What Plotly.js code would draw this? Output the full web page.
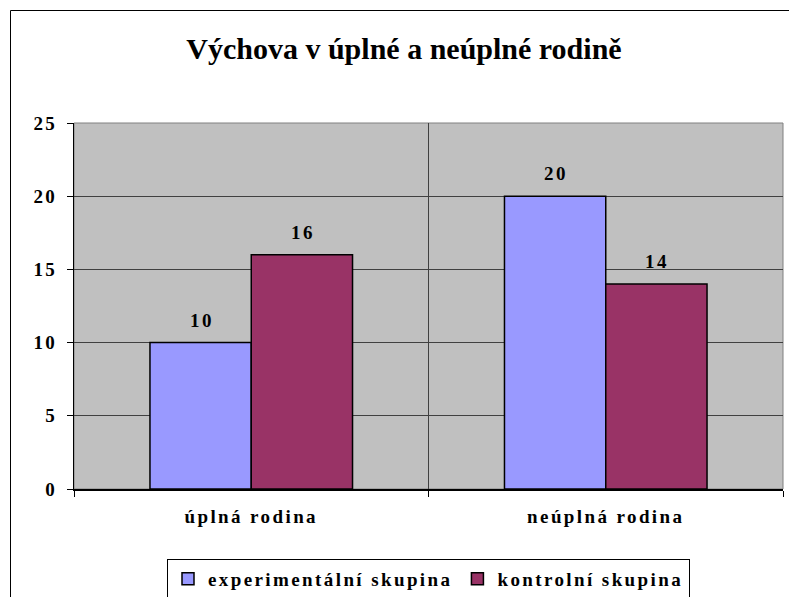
<!DOCTYPE html>
<html>
<head>
<meta charset="utf-8">
<script src="https://cdn.plot.ly/plotly-3.0.1.min.js"></script>
<style>
  html, body { margin: 0; padding: 0; background: #fff; overflow: hidden; }
  #chart { width: 789px; height: 597px; }
  .xtick text, .ytick text, text.legendtext, .annotation-text {
    letter-spacing: 2.4px; font-weight: bold !important;
    font-family: 'Liberation Serif', 'Times New Roman', serif !important;
  }
</style>
</head>
<body>
<div id="chart"></div>
<script>
const categories = ['úplná rodina', 'neúplná rodina'];
const seriesNames = ['experimentální skupina', 'kontrolní skupina'];
const experimental = [10, 20];
const control = [16, 14];
const yTicks = [0, 5, 10, 15, 20, 25];
const chartTitle = 'Výchova v úplné a neúplné rodině';

const serif = 'Liberation Serif, Times New Roman, serif';
const labelFont = { family: serif, size: 19, color: '#000', weight: 700 };

function barTrace(name, values, color) {
  return {
    type: 'bar',
    name: name,
    x: categories,
    y: values,
    marker: { color: color, line: { color: '#000', width: 1.5 } },
    hoverinfo: 'skip'
  };
}

const data = [
  barTrace(seriesNames[0], experimental, '#9999FF'),
  barTrace(seriesNames[1], control, '#993366')
];

// value labels, placed through the axis scales above each bar
const seriesValues = [experimental, control];
const halfBarPx = 50.5;
const annotations = [];
seriesValues.forEach(function (vals, s) {
  vals.forEach(function (v, i) {
    annotations.push({
      xref: 'x', yref: 'y',
      x: categories[i], y: v,
      text: String(v),
      showarrow: false,
      xanchor: 'center', yanchor: 'bottom',
      xshift: (s === 0 ? -1 : 1) * halfBarPx + 1,
      yshift: 10,
      font: labelFont
    });
  });
});

const plotL = 74, plotR = 6, plotT = 123, plotB = 108;
const plotW = 789 - plotL - plotR, plotH = 597 - plotT - plotB;

const layout = {
  width: 789,
  height: 597,
  margin: { l: plotL, r: plotR, t: plotT, b: plotB, pad: 0, autoexpand: false },
  paper_bgcolor: '#ffffff',
  plot_bgcolor: '#C0C0C0',
  title: {
    text: '<b>' + chartTitle + '</b>',
    font: { family: serif, size: 30, color: '#000' },
    x: 0.512, xanchor: 'center', xref: 'container',
    y: 1 - 48 / 597, yanchor: 'middle', yref: 'container'
  },
  barmode: 'group',
  bargap: 0.4286,
  bargroupgap: 0,
  showlegend: true,
  legend: {
    orientation: 'h',
    x: 0.5, xanchor: 'center',
    y: -(559 - 489) / plotH, yanchor: 'top',
    bgcolor: '#ffffff',
    bordercolor: '#000',
    borderwidth: 1,
    font: labelFont,
    itemwidth: 30,
    traceorder: 'normal'
  },
  annotations: annotations,
  xaxis: {
    type: 'category',
    tickson: 'boundaries',
    ticks: 'outside',
    ticklen: 6,
    tickcolor: '#000',
    tickwidth: 1,
    showgrid: true,
    gridcolor: '#404040',
    gridwidth: 1,
    showline: true,
    linecolor: '#000',
    linewidth: 1.5,
    tickfont: labelFont,
    ticklabelstandoff: 10,
    fixedrange: true
  },
  yaxis: {
    range: [0, 25],
    tickvals: yTicks,
    ticktext: yTicks.map(String),
    ticks: 'outside',
    ticklen: 6,
    tickcolor: '#000',
    tickwidth: 1,
    showgrid: true,
    gridcolor: '#404040',
    gridwidth: 1,
    zeroline: false,
    showline: true,
    linecolor: '#000',
    linewidth: 1,
    tickfont: labelFont,
    ticklabelstandoff: 6,
    fixedrange: true
  },
  shapes: [
    {
      type: 'rect', xref: 'paper', yref: 'paper',
      x0: 0, x1: 1, y0: 0, y1: 1,
      line: { color: '#808080', width: 1 },
      layer: 'below'
    },
    {
      type: 'rect', xref: 'paper', yref: 'paper',
      x0: (10.5 - plotL) / plotW, x1: 1.1,
      y0: (plotH + plotT - 10.5) / plotH, y1: -0.4,
      line: { color: '#000', width: 1 },
      fillcolor: 'rgba(0,0,0,0)',
      layer: 'above'
    }
  ]
};

Plotly.newPlot('chart', data, layout, { displayModeBar: false, staticPlot: true });
</script>
</body>
</html>
